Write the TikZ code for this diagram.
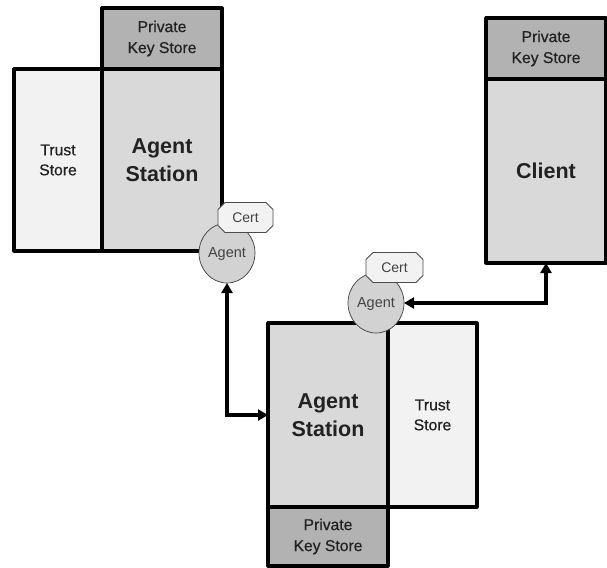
\documentclass[tikz,border=0pt]{standalone}
\usepackage{fontspec}
\setmainfont{Liberation Sans}
\newfontfamily\medfont[FakeBold=0.6]{Liberation Sans}
\usetikzlibrary{shapes.geometric,shapes.misc,arrows.meta}
\definecolor{stationgray}{HTML}{D9D9D9}
\definecolor{trustgray}{HTML}{F2F2F2}
\definecolor{keygray}{HTML}{B2B2B2}
\definecolor{agentgray}{HTML}{D2D2D2}
\definecolor{textgray}{HTML}{222222}
\tikzset{
  boxbase/.style={draw=black,line width=3.2pt,rectangle,inner sep=0pt,outer sep=0pt,align=center,text=textgray,line join=round},
  stationbox/.style={boxbase,fill=stationgray,font=\fontsize{21.5}{28}\selectfont\bfseries},
  truststore/.style={boxbase,fill=trustgray,font=\fontsize{15.7}{20}\selectfont\medfont},
  keystore/.style={boxbase,fill=keygray,font=\fontsize{15.7}{21}\selectfont\medfont},
  agentnode/.style={ellipse,draw=black!75,line width=0.7pt,fill=agentgray,minimum width=56pt,minimum height=60pt,inner sep=0pt,outer sep=0pt,text=textgray!85,text depth=0pt,font=\fontsize{14.5}{17}\selectfont},
  certnode/.style={chamfered rectangle,chamfered rectangle xsep=3.5pt,chamfered rectangle ysep=3.5pt,draw=black!70,line width=0.8pt,fill=trustgray,minimum width=55pt,minimum height=30pt,inner sep=0pt,outer sep=0pt,text=textgray!85,font=\fontsize{14}{17}\selectfont},
  link/.style={line width=3.3pt,{Triangle[length=10pt,width=11pt]}-{Triangle[length=10pt,width=11pt]}}
}
\begin{document}
\begin{tikzpicture}[x=1pt,y=-1pt]
\useasboundingbox (0,0) rectangle (607,567);
% upper-left group
\node[keystore,minimum width=120pt,minimum height=61pt] (key1) at (162,38.5) {Private\\Key Store};
\node[truststore,minimum width=88pt,minimum height=182pt] (trust1) at (58,160) {Trust\\Store};
\node[stationbox,minimum width=120pt,minimum height=182pt] (station1) at (162,160) {Agent\\Station};
% client group
\node[keystore,minimum width=120pt,minimum height=61pt] (key3) at (546,48.5) {Private\\Key Store};
\node[stationbox,minimum width=120pt,minimum height=184pt] (client) at (546,171) {Client};
% lower group
\node[stationbox,minimum width=120pt,minimum height=184pt] (station2) at (328,415) {Agent\\Station};
\node[truststore,minimum width=89pt,minimum height=184pt] (trust2) at (432.5,415) {Trust\\Store};
\node[keystore,minimum width=120pt,minimum height=59pt] (key2) at (328,536.5) {Private\\Key Store};
% agents and certificates
\node[agentnode] (agent1) at (227,253) {Agent};
\node[certnode] (cert1) at (245.5,217.5) {Cert};
\node[agentnode] (agent2) at (376,303) {Agent};
\node[certnode,minimum width=57pt] (cert2) at (394.5,267.5) {Cert};
% connectors
\draw[link] (agent1.south) |- (station2.west);
\draw[link] (agent2.east) -| (client.south);
\end{tikzpicture}
\end{document}
